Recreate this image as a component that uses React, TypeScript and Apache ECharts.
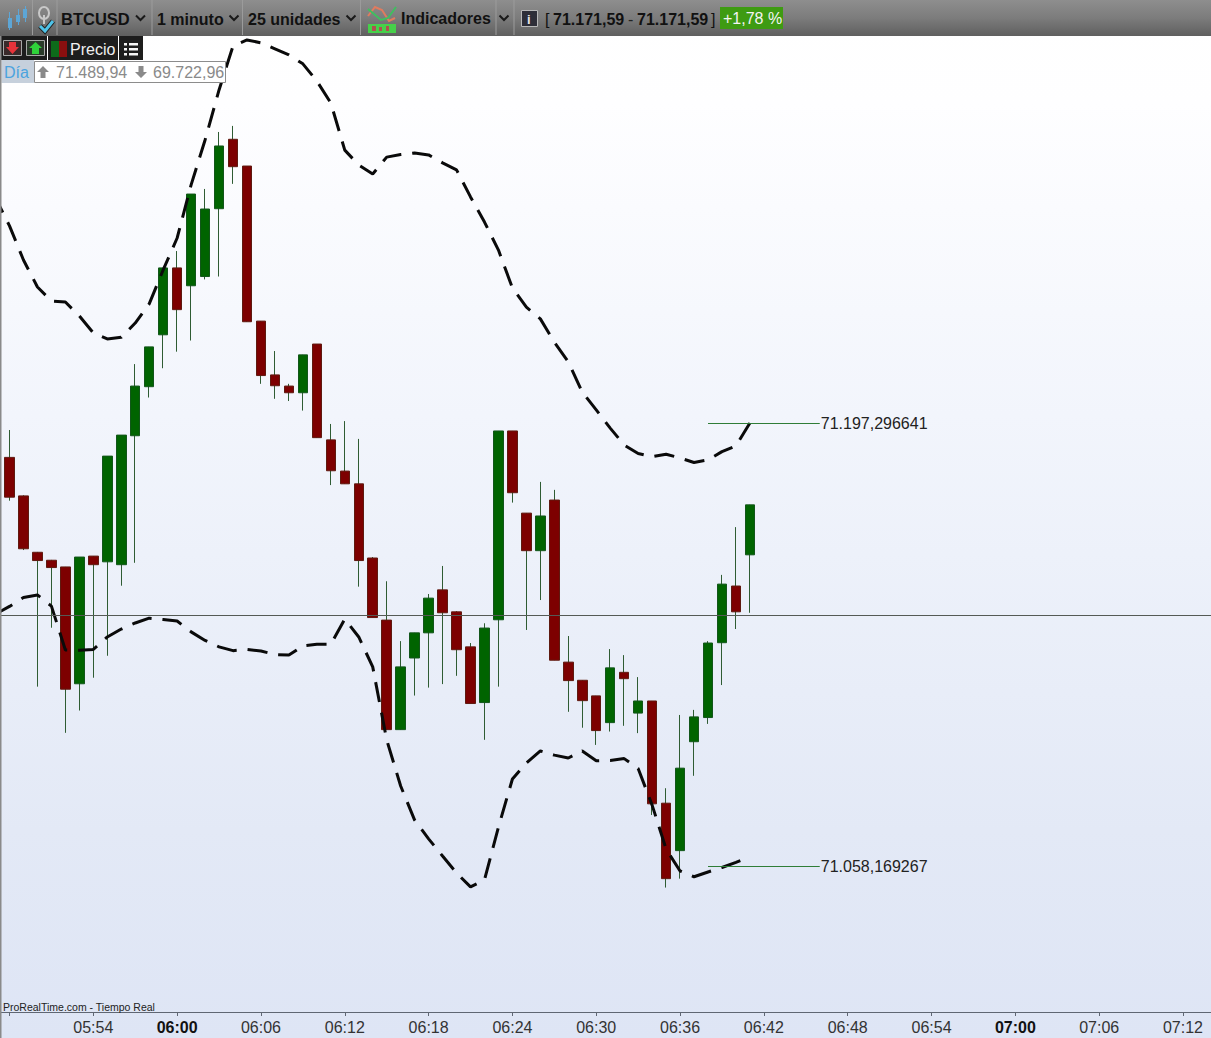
import React, { useEffect, useRef } from "react";
import * as echarts from "echarts";

const times = [
  "05:47","05:48","05:49","05:50","05:51","05:52","05:53","05:54","05:55","05:56","05:57","05:58","05:59",
  "06:00","06:01","06:02","06:03","06:04","06:05","06:06","06:07","06:08","06:09","06:10","06:11","06:12",
  "06:13","06:14","06:15","06:16","06:17","06:18","06:19","06:20","06:21","06:22","06:23","06:24","06:25",
  "06:26","06:27","06:28","06:29","06:30","06:31","06:32","06:33","06:34","06:35","06:36","06:37","06:38",
  "06:39","06:40","06:41","06:42","06:43","06:44","06:45","06:46","06:47","06:48","06:49","06:50","06:51",
  "06:52","06:53","06:54","06:55","06:56","06:57","06:58","06:59","07:00","07:01","07:02","07:03","07:04",
  "07:05","07:06","07:07","07:08","07:09","07:10","07:11","07:12","07:13","07:14",
];

// Candles start at 05:48 (second category).
const opens = [
  71186.5,71174.4,71156.7,71154.2,71152.1,71115.4,71155.5,71153.7,71152.8,71193.3,71208.7,71225.0,71246.0,71240.4,
  71243.3,71264.6,71286.4,71278.0,71229.3,71212.4,71208.9,71206.8,71222.1,71192.0,71182.2,71178.2,71154.9,71135.4,
  71101.0,71123.5,71131.4,71144.9,71138.0,71127.0,71109.5,71135.5,71194.8,71169.0,71157.2,71173.1,71122.2,71116.5,
  71111.6,71103.2,71119.0,71106.2,71110.0,71077.9,71063.0,71097.2,71104.8,71128.3,71146.1,71155.9,
];
const closes = [
  71174.0,71157.8,71154.1,71151.9,71113.7,71155.2,71152.8,71186.9,71193.5,71208.9,71221.2,71246.0,71232.9,71269.2,
  71264.5,71284.3,71277.8,71229.1,71212.2,71209.0,71206.8,71218.7,71192.7,71182.3,71178.2,71154.1,71136.2,71101.0,
  71120.7,71131.4,71142.3,71137.7,71126.1,71109.2,71132.9,71194.8,71175.4,71157.2,71168.1,71122.8,71116.4,71110.1,
  71100.7,71120.4,71117.0,71110.0,71077.7,71054.2,71088.9,71105.0,71128.2,71146.7,71138.0,71171.6,
];
const lows = [
  71172.9,71157.4,71114.5,71133.0,71100.0,71107.0,71117.3,71124.2,71146.2,71153.4,71205.3,71214.5,71219.7,71223.2,
  71242.4,71243.3,71272.4,71229.1,71209.6,71204.9,71204.2,71201.2,71192.7,71177.8,71178.2,71145.9,71136.2,71101.0,
  71101.0,71111.7,71114.2,71115.3,71117.9,71109.2,71097.8,71114.5,71172.3,71132.3,71141.7,71122.8,71106.6,71101.6,
  71096.2,71100.4,71102.2,71099.9,71074.2,71051.4,71054.2,71086.5,71102.8,71115.0,71132.6,71137.7,
];
const highs = [
  71195.1,71174.6,71156.8,71154.3,71152.1,71155.2,71155.5,71186.9,71193.5,71215.8,71221.2,71246.0,71251.3,71269.2,
  71270.8,71288.7,71290.6,71278.0,71229.3,71219.9,71209.6,71218.7,71222.1,71197.0,71197.9,71192.3,71155.2,71147.6,
  71128.8,71131.4,71143.6,71152.4,71138.2,71128.2,71134.4,71194.8,71194.8,71169.0,71178.8,71176.3,71130.4,71116.5,
  71111.6,71126.3,71124.4,71117.5,71110.0,71082.6,71105.6,71107.2,71128.8,71149.6,71164.6,71171.6,
];

// Band values start at 05:47 (first category).
const upperBand = [
  71268.0,71259.2,71248.5,71240.0,71235.6,71235.3,71230.9,71225.6,71223.7,71224.2,71228.7,71234.7,71245.4,71255.4,
  71272.1,71286.2,71301.9,71315.7,71317.6,71316.7,71314.8,71312.9,71310.1,71304.7,71297.8,71283.0,71278.3,71275.5,
  71280.8,71281.6,71282.1,71281.5,71279.0,71276.8,71268.3,71260.4,71251.6,71239.7,71233.7,71230.0,71222.7,71216.5,
  71207.0,71201.4,71195.7,71190.4,71187.7,71186.7,71187.5,71186.3,71184.9,71185.7,71188.3,71190.1,71197.3,
];
const lowerBand = [
  71137.3,71139.7,71142.5,71143.3,71139.8,71126.0,71125.9,71126.2,71130.1,71132.6,71134.5,71136.0,71135.6,71135.1,
  71131.7,71129.0,71127.0,71125.8,71126.2,71125.7,71124.6,71124.4,71127.3,71127.8,71127.8,71135.7,71130.1,71120.7,
  71097.8,71083.3,71072.6,71066.7,71061.3,71056.0,71051.6,71053.8,71070.4,71085.5,71090.5,71094.3,71093.0,71092.1,
  71094.3,71091.2,71091.3,71091.9,71088.8,71077.3,71063.5,71056.6,71054.8,71056.3,71057.7,71059.3,71061.0,
];

const upperLevel = 71197.296641;
const lowerLevel = 71058.169267;
const upperLevelText = "71.197,296641";
const lowerLevelText = "71.058,169267";
const priceLine = 71137.0;
const levelFrom = "06:38";
const levelTo = "06:46";
const yMin = 71012.32;
const yMax = 71318.84;

const FONT = "Liberation Sans";
const TXT = (x: number, y: number, text: string, size: number, fill: string, weight = "normal") => ({
  type: "text", z: 100, x, y,
  style: { text, fill, fontFamily: FONT, fontSize: size, fontWeight: weight, verticalAlign: "middle", align: "left" },
});
const RECT = (x: number, y: number, w: number, h: number, fill: any, stroke?: string) => ({
  type: "rect", z: 100, shape: { x, y, width: w, height: h },
  style: stroke ? { fill, stroke, lineWidth: 1 } : { fill },
});
const POLY = (points: number[][], stroke: string, lineWidth = 2) => ({
  type: "polyline", z: 101, shape: { points }, style: { stroke, lineWidth, fill: "none" },
});
const GON = (points: number[][], fill: string) => ({
  type: "polygon", z: 101, shape: { points }, style: { fill },
});
const chevron = (x: number) => POLY([[x, 15.5], [x + 4.5, 20], [x + 9, 15.5]], "#1a1a1a", 2);

const toolbarElements: any[] = [
  RECT(0, 0, 1211, 36, new echarts.graphic.LinearGradient(0, 0, 0, 1, [
    { offset: 0, color: "#8e8e8e" },
    { offset: 0.5, color: "#7c7c7c" },
    { offset: 1, color: "#5f5f5f" },
  ])),
  ...[32, 56.5, 151.5, 242, 360, 495.5, 513.5].map((x) => RECT(x, 0, 1, 35, "#9b9b9b")),
  // candle icon
  RECT(9, 12, 1, 18, "#5da6d6"), RECT(8, 18, 4, 10, "#5da6d6"),
  RECT(18, 9, 1, 16, "#5da6d6"), RECT(16, 15, 4, 7, "#5da6d6"),
  RECT(25, 6, 1, 16, "#5da6d6"), RECT(23, 9, 4, 9, "#5da6d6"),
  // link and check icon
  { type: "ellipse", z: 101, shape: { cx: 44, cy: 13, rx: 5, ry: 6 }, style: { stroke: "#c8c8c8", fill: "none", lineWidth: 2 } },
  RECT(43, 15, 2, 9, "#c8c8c8"),
  POLY([[40, 26], [45, 31], [53, 21]], "#222222", 5),
  POLY([[40, 26], [45, 31], [53, 21]], "#4fc3e8", 3),
  TXT(61, 19, "BTCUSD", 16.5, "#111111", "bold"),
  chevron(136),
  TXT(157, 19, "1 minuto", 16, "#111111", "bold"),
  chevron(229.5),
  TXT(248, 19, "25 unidades", 16, "#111111", "bold"),
  chevron(346.5),
  // indicators icon
  POLY([[368, 16], [375, 7], [382, 10], [389, 21], [395, 18]], "#e07b5f", 2),
  POLY([[368, 9], [374, 14], [381, 20], [388, 18], [396, 7]], "#3fbf5f", 2),
  RECT(368, 24, 28, 9, "#46d04a"),
  RECT(372, 26, 4, 5, "#b05050"), RECT(379, 27, 3, 4, "#b05050"), RECT(386, 26, 3, 5, "#b05050"),
  TXT(401, 18, "Indicadores", 16, "#111111", "bold"),
  chevron(499.5),
  // info icon
  RECT(521.5, 10.5, 16, 16, "#2e2e38", "#b9b9b9"),
  TXT(527, 19, "i", 13, "#e8e8e8", "bold"),
  TXT(545, 19.5, "[", 16, "#111111"),
  TXT(553, 19.5, "71.171,59", 16, "#111111", "bold"),
  TXT(628, 19.5, "-", 16, "#222222"),
  TXT(637, 19.5, "71.171,59", 16, "#111111", "bold"),
  TXT(711, 19.5, "]", 16, "#111111"),
  RECT(720, 7, 63, 22, "#3e9b12"),
  TXT(723, 18.5, "+1,78 %", 16, "#f4f4f4"),
];

const legendElements: any[] = [
  RECT(0, 36, 47, 24, "#1d1d1d"),
  RECT(48, 36, 70, 24, "#1d1d1d"),
  RECT(119, 36, 24, 24, "#1d1d1d"),
  RECT(3.5, 40.5, 18, 15, "#3a2a2a", "#a8a8a8"),
  GON([[9, 42], [16, 42], [16, 47], [19, 47], [12.5, 54], [6, 47], [9, 47]], "#e8333a"),
  RECT(26.5, 40.5, 18, 15, "#2a3a2a", "#a8a8a8"),
  GON([[35.5, 42], [42, 48], [39, 48], [39, 54], [32, 54], [32, 48], [29, 48]], "#2fd23a"),
  RECT(51, 41, 8, 16, "#0d6a1a"),
  RECT(59, 41, 8, 16, "#8a0f0f"),
  TXT(70, 49, "Precio", 16, "#f0f0f0"),
  RECT(124, 43, 3, 2.5, "#f4f4f4"), RECT(129, 43, 9, 2.5, "#f4f4f4"),
  RECT(124, 48, 3, 2.5, "#f4f4f4"), RECT(129, 48, 9, 2.5, "#f4f4f4"),
  RECT(124, 53, 3, 2.5, "#f4f4f4"), RECT(129, 53, 9, 2.5, "#f4f4f4"),
  RECT(1.5, 60, 32.5, 23, "#c6d0dc"),
  TXT(4, 72.5, "Día", 16, "#4aa3df"),
  RECT(34.5, 61.5, 191, 21, "#ffffff", "#8c8c8c"),
  GON([[43, 66], [49, 72], [45.5, 72], [45.5, 78], [40.5, 78], [40.5, 72], [37, 72]], "#8a8a8a"),
  TXT(56, 72.5, "71.489,94", 16, "#8a8a8a"),
  GON([[141, 78], [147, 72], [143.5, 72], [143.5, 66], [138.5, 66], [138.5, 72], [135, 72]], "#8a8a8a"),
  TXT(153, 72.5, "69.722,96", 16, "#8a8a8a"),
  RECT(0, 36, 1.5, 1002, "#8a8a8a"),
  TXT(3, 1006.5, "ProRealTime.com - Tiempo Real", 10.5, "#222222"),
];

export default function App() {
  const ref = useRef<HTMLDivElement>(null);
  useEffect(() => {
    document.body.style.margin = "0";
    document.body.style.overflow = "hidden";
    const chart = echarts.init(ref.current!, undefined, { renderer: "svg" });
    const blank = ["-", "-", "-", "-"];
    const wickData = [blank, ...opens.map((o, i) => [o, closes[i], lows[i], highs[i]])];
    const bodyData = [blank, ...opens.map((o, i) => [o, closes[i], Math.min(o, closes[i]), Math.max(o, closes[i])])];
    const levelLine = (value: number, text: string) => [
      { coord: [levelFrom, value], label: { formatter: text } },
      { coord: [levelTo, value] },
    ];
    chart.setOption({
      animation: false,
      backgroundColor: new echarts.graphic.LinearGradient(0, 0, 0, 1, [
        { offset: 0, color: "#ffffff" },
        { offset: 0.1, color: "#fefeff" },
        { offset: 0.4, color: "#f2f5fc" },
        { offset: 0.8, color: "#e3e9f6" },
        { offset: 1, color: "#dee5f5" },
      ]),
      grid: { left: -11.455, top: 36, width: 1229.36, height: 976, containLabel: false, outerBoundsMode: "none" },
      xAxis: {
        type: "category",
        data: times,
        boundaryGap: true,
        axisLine: { show: true, lineStyle: { color: "#5f6673", width: 1 } },
        axisTick: {
          show: true, alignWithLabel: true, length: 4,
          lineStyle: { color: "#5f6673" },
          interval: (_: number, v: string) => Number(v.slice(3)) % 6 === 0,
        },
        axisLabel: {
          show: true, margin: 7, color: "#333333", fontFamily: FONT, fontSize: 16,
          hideOverlap: false,
          interval: (_: number, v: string) => Number(v.slice(3)) % 6 === 0 && v !== "05:48",
          formatter: (v: string) => (v.endsWith(":00") ? `{b|${v}}` : v),
          rich: { b: { fontWeight: "bold", fontSize: 16, fontFamily: FONT, color: "#111111" } },
        },
        splitLine: { show: false },
      },
      yAxis: { type: "value", min: yMin, max: yMax, show: false, scale: true, splitLine: { show: false } },
      series: [
        {
          type: "candlestick", name: "wicks", data: wickData, barWidth: 1, silent: true, z: 2,
          itemStyle: { color: "#2f5c33", color0: "#2f5c33", borderColor: "#2f5c33", borderColor0: "#2f5c33", borderWidth: 1 },
          markLine: {
            silent: true, symbol: "none", animation: false,
            lineStyle: { color: "#2f7d37", width: 1, type: "solid" },
            label: { position: "end", distance: 1, color: "#222222", fontFamily: FONT, fontSize: 16 },
            data: [levelLine(upperLevel, upperLevelText), levelLine(lowerLevel, lowerLevelText)],
          },
        },
        {
          type: "candlestick", name: "bodies", data: bodyData, barWidth: 10, silent: true, z: 3,
          itemStyle: { color: "#006400", color0: "#7d0000", borderColor: "#12561a", borderColor0: "#5f1a10", borderWidth: 1 },
          markLine: {
            silent: true, symbol: "none", animation: false,
            lineStyle: { color: "#555a55", width: 1, type: "solid" },
            label: { show: false },
            data: [{ yAxis: priceLine }],
          },
        },
        {
          type: "line", name: "upper", data: upperBand, showSymbol: false, symbol: "none", smooth: false, z: 4, silent: true,
          lineStyle: { color: "#0a0a0a", width: 3, type: [20.3, 10.95], dashOffset: 4 },
        },
        {
          type: "line", name: "lower", data: lowerBand, showSymbol: false, symbol: "none", smooth: false, z: 4, silent: true,
          lineStyle: { color: "#0a0a0a", width: 3, type: [20.2, 10.9], dashOffset: 1 },
        },
      ],
      graphic: { elements: [...toolbarElements, ...legendElements] },
    });
    return () => chart.dispose();
  }, []);
  return <div ref={ref} style={{ width: 1211, height: 1038 }} />;
}
